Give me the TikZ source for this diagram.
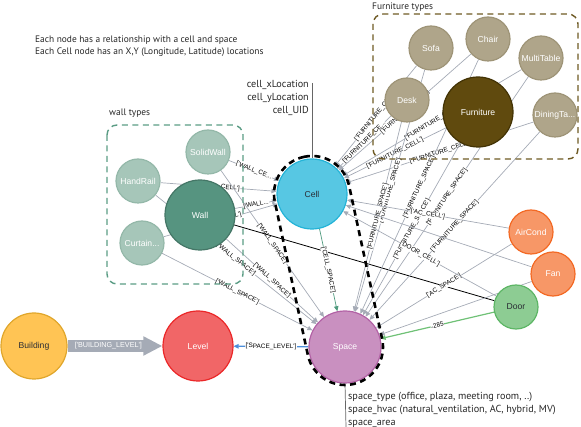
\documentclass[tikz,border=0pt]{standalone}
\usepackage{fontspec}
\setmainfont{PT Sans}
\newfontfamily\nodefont{Liberation Sans}
\usetikzlibrary{arrows.meta,calc}
\pgfdeclarelayer{background}
\pgfsetlayers{background,main}
\newcommand\q{\textquotesingle}
\definecolor{relgray}{HTML}{A5ABB6}
\definecolor{bfill}{HTML}{FFC454}\definecolor{bdraw}{HTML}{E0A62B}
\definecolor{lfill}{HTML}{F16667}\definecolor{ldraw}{HTML}{EB2728}
\definecolor{sfill}{HTML}{C990C0}\definecolor{sdraw}{HTML}{B261A5}
\definecolor{cfill}{HTML}{57C7E3}\definecolor{cdraw}{HTML}{23B3D7}
\definecolor{wfill}{HTML}{569480}\definecolor{wdraw}{HTML}{447666}
\definecolor{wtfill}{HTML}{A6C6B9}\definecolor{wtdraw}{HTML}{94B8A9}
\definecolor{ffill}{HTML}{604A0E}\definecolor{fdraw}{HTML}{423204}
\definecolor{ftfill}{HTML}{AFA58A}\definecolor{ftdraw}{HTML}{9E9477}
\definecolor{afill}{HTML}{F79767}\definecolor{adraw}{HTML}{F36924}
\definecolor{dfill}{HTML}{8DCC93}\definecolor{ddraw}{HTML}{5DB665}
\definecolor{darktext}{HTML}{2A2C34}
\definecolor{wallbox}{HTML}{5A9C84}
\definecolor{furnbox}{HTML}{6E5A24}
\definecolor{greenrel}{HTML}{6FC176}
\definecolor{tealrel}{HTML}{4F9A7E}
\definecolor{bluerel}{HTML}{4C8EDA}
\tikzset{
  ent/.style={circle, line width=1.2pt, inner sep=0pt, font=\nodefont\fontsize{8.6}{9.5}\selectfont},
  bignode/.style={ent, minimum size=70pt},
  smallnode/.style={ent, minimum size=44pt},
  walltype/.style={smallnode, fill=wtfill, draw=wtdraw, text=white},
  furntype/.style={smallnode, fill=ftfill, draw=ftdraw, text=white},
  rel/.style={draw=relgray, line width=0.7pt, -{Triangle[length=5pt,width=4.5pt]}},
  lbl/.style={sloped, midway, font=\nodefont\fontsize{6.4}{7}\selectfont, fill=white, inner sep=0.4pt, text=black},
  note/.style={font=\fontsize{9.4}{10}\selectfont, text=black!85, inner sep=0pt},
  attr/.style={font=\fontsize{10.2}{11}\selectfont, text=black!85, inner sep=0pt},
  typebox/.style={rounded corners=10pt, line width=1.4pt, dash pattern=on 6pt off 4.5pt},
}
\begin{document}
\begin{tikzpicture}[x=1pt,y=-1pt]
\useasboundingbox (0,0) rectangle (581,427);

% texts
\node[note, anchor=base west] (note1) at (35,43) {Each node has a relationship with a cell and space};
\node[note, anchor=base west] (note2) at (35,55) {Each Cell node has an X,Y (Longitude, Latitude) locations};
\node[attr, anchor=base east] (cx) at (309,88) {cell\_xLocation};
\node[attr, anchor=base east] (cy) at (309,101) {cell\_yLocation};
\node[attr, anchor=base east] (cuid) at (309,114) {cell\_UID};
\node[note, anchor=base west] (walltitle) at (109,116) {wall types};
\node[note, anchor=base west] (furntitle) at (372,10) {Furniture types};
\node[attr, anchor=base west] (st) at (348,400) {space\_type (office, plaza, meeting room, ..)};
\node[attr, anchor=base west] (sh) at (348,412.5) {space\_hvac (natural\_ventilation, AC, hybrid, MV)};
\node[attr, anchor=base west] (sa) at (348,425) {space\_area};

% boxes
\draw[typebox, draw=wallbox] (107,125) rectangle (243,284);
\draw[typebox, draw=furnbox] (373,14) rectangle (578,159);

% nodes
\node[ent, minimum size=66pt, fill=bfill, draw=bdraw, text=darktext] (building) at (34,346) {Building};
\node[bignode, fill=lfill, draw=ldraw, text=white] (level) at (198,346) {Level};
\node[ent, minimum size=72pt, fill=sfill, draw=sdraw, text=white] (space) at (345,347) {Space};
\node[bignode, fill=cfill, draw=cdraw, text=darktext] (cell) at (312,194) {Cell};
\node[bignode, fill=wfill, draw=wdraw, text=white] (wall) at (200,215) {Wall};
\node[walltype] (solidwall) at (208,152) {SolidWall};
\node[walltype] (handrail) at (138,181) {HandRail};
\node[walltype] (curtain) at (142,243) {Curtain...};
\node[bignode, fill=ffill, draw=fdraw, text=white] (furniture) at (478,112) {Furniture};
\node[furntype] (sofa) at (431,48) {Sofa};
\node[furntype] (chair) at (488,39) {Chair};
\node[furntype] (multitable) at (541,58) {MultiTable};
\node[furntype] (desk) at (407,100) {Desk};
\node[furntype] (dining) at (555,115) {DiningTa...};
\node[smallnode, fill=afill, draw=adraw, text=white] (aircond) at (531,232) {AirCond};
\node[smallnode, fill=afill, draw=adraw, text=white] (fan) at (553,274) {Fan};
\node[smallnode, fill=dfill, draw=ddraw, text=darktext] (door) at (516,307) {Door};

% attribute lines
\coordinate (celltop) at (312,83);
\coordinate (spacebot) at (346,427);
\draw[black!60, line width=0.7pt] (celltop) -- (cell.north);
\draw[black!60, line width=0.7pt] (space.south) -- (spacebot);

% outline around cell and space
\begin{scope}[shift={(312,194)}, rotate=-77.83]
  \draw[black, line width=2.6pt, dash pattern=on 6pt off 4.5pt, rounded corners=37.9pt] (-38,-38) rectangle (194.5,38);
\end{scope}

\begin{pgfonlayer}{background}
% wall types
\draw[rel] (solidwall) -- node[lbl]{[\q WALL\_CE...} (cell);
\draw[rel] (handrail) -- node[lbl]{[\q WALL\_CELL\q]} (cell);
\draw[rel] (wall) -- node[lbl]{[\q WALL...} (cell);
\draw[rel] (curtain) -- node[lbl]{[\q WALL\_CELL\q]} (cell);
\draw[rel] (solidwall) -- node[lbl]{[\q WALL\_SPACE\q]} (space);
\draw[rel] (handrail) -- node[lbl]{[\q WALL\_SPACE\q]} (space);
\draw[rel] (wall) -- node[lbl]{[\q WALL\_SPACE\q]} (space);
\draw[rel] (curtain) -- node[lbl]{[\q WALL\_SPACE\q]} (space);
\draw[black, line width=0.8pt] (wall) -- (door);
% furniture
\draw[rel] (sofa) -- node[lbl]{[\q FURNITURE\_CELL\q]} (cell);
\draw[rel] (desk) -- node[lbl]{[\q FURNITURE\_CE...} (cell);
\draw[rel] (chair) -- node[lbl]{[\q FURNITURE\_CELL\q]} (cell);
\draw[rel] (furniture) -- node[lbl]{[\q FURNITURE\_CELL\q]} (cell);
\draw[rel] (multitable) -- node[lbl]{[\q FURNITURE\_CELL\q]} (cell);
\draw[rel] (dining) -- node[lbl]{[\q FURNITURE\_CELL\q]} (cell);
\draw[rel] (sofa) -- node[lbl]{[\q FURNITURE\_SPACE\q]} (space);
\draw[rel] (desk) -- node[lbl]{[\q FURNITURE\_SPACE\q]} (space);
\draw[rel] (chair) -- node[lbl]{[\q FURNITURE\_SPACE\q]} (space);
\draw[rel] (furniture) -- node[lbl]{[\q FURNITURE\_SPACE\q]} (space);
\draw[rel] (multitable) -- node[lbl]{[\q FURNITURE\_SPACE\q]} (space);
\draw[rel] (dining) -- node[lbl]{[\q FURNITURE\_SPACE\q]} (space);
% devices
\draw[rel] (aircond) -- node[lbl]{[\q AC\_CELL\q]} (cell);
\draw[rel] (aircond) -- node[lbl]{[\q AC\_SPACE\q]} (space);
\draw[rel] (fan) -- (cell);
\draw[rel] (fan) -- (space);
\draw[rel] (door) -- node[lbl]{[\q DOOR\_CELL\q]} (cell);
\draw[rel, draw=greenrel, line width=1.2pt] (door) -- node[lbl]{-285} (space);
\draw[rel, draw=tealrel] (cell) -- node[lbl]{[\q CELL\_SPACE\q]} (space);
\draw[rel, draw=bluerel, line width=1.2pt] (space) -- node[lbl]{[\q SPACE\_LEVEL\q]} (level);
\draw[relgray, line width=12pt, -{Triangle[length=19pt,width=18pt]}] (building) -- node[pos=0.43, text=white, font=\nodefont\fontsize{7.2}{8}\selectfont, inner sep=0pt] {[\q BUILDING\_LEVEL\q]} (level);
\end{pgfonlayer}
\end{tikzpicture}
\end{document}
